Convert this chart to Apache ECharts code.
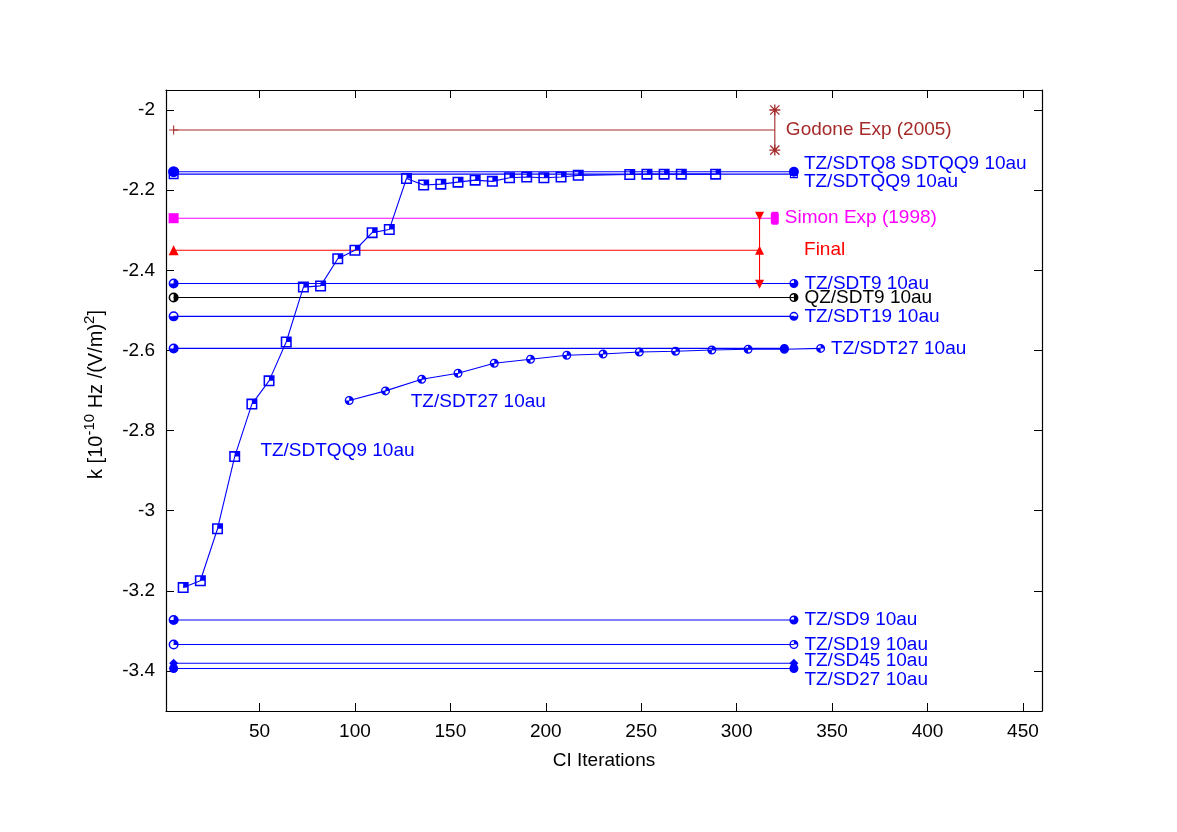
<!DOCTYPE html>
<html>
<head>
<meta charset="utf-8">
<script src="https://cdn.jsdelivr.net/npm/echarts@6/dist/echarts.min.js"></script>
<style>html,body{margin:0;padding:0;background:#fff}#c{width:1177px;height:832px}</style>
</head>
<body>
<div id="c"></div>
<script>
// ---------- data ----------
const xTicks = [50, 100, 150, 200, 250, 300, 350, 400, 450];
const yTicks = [-3.4, -3.2, -3, -2.8, -2.6, -2.4, -2.2, -2];

// horizontal reference results (name, value, start/end iteration)
const refNames  = ['Godone Exp (2005)', 'TZ/SDTQ8 SDTQQ9 10au', 'TZ/SDTQQ9 10au', 'Simon Exp (1998)', 'Final',
                   'TZ/SDT9 10au', 'QZ/SDT9 10au', 'TZ/SDT19 10au', 'TZ/SDT27 10au',
                   'TZ/SD9 10au', 'TZ/SD19 10au', 'TZ/SD45 10au', 'TZ/SD27 10au'];
const refValues = [-2.05, -2.154, -2.16, -2.27, -2.35,
                   -2.433, -2.468, -2.515, -2.595,
                   -3.273, -3.334, -3.381, -3.394];
const refStart  = [5, 5, 5, 5, 5, 5, 5, 5, 5, 5, 5, 5, 5];
const refEnd    = [320, 330, 330, 320, 312, 330, 330, 330, 325, 330, 330, 330, 330];

// experimental / final error bars
const godoneErrX = 320, godoneErr = [-2.0, -2.1];
const finalErrX = 312,  finalErr  = [-2.265, -2.435];

// CI convergence: TZ/SDTQQ9 10au
const sdtqq9Iter = [10, 19, 28, 37, 46, 55, 64, 73, 82, 91, 100, 109, 118, 127, 136, 145, 154, 163, 172,
                    181, 190, 199, 208, 217, 244, 253, 262, 271, 289];
const sdtqq9Vals = [-3.192, -3.175, -3.045, -2.865, -2.734, -2.676, -2.579, -2.442, -2.439, -2.371, -2.350,
                    -2.306, -2.298, -2.171, -2.187, -2.185, -2.180, -2.175, -2.178, -2.169, -2.167, -2.169,
                    -2.167, -2.163, -2.161, -2.160, -2.160, -2.160, -2.160];

// CI convergence: TZ/SDT27 10au
const sdt27Iter = [97, 116, 135, 154, 173, 192, 211, 230, 249, 268, 287, 306, 325, 344];
const sdt27Vals = [-2.725, -2.701, -2.672, -2.657, -2.632, -2.622, -2.612, -2.609, -2.604, -2.602,
                   -2.599, -2.597, -2.597, -2.595];

// ---------- styles ----------
const BLUE = '#0000ff', BROWN = '#a52a2a', MAG = '#ff00ff', RED = '#ff0000', BLACK = '#000000';
const FONT = 'Liberation Sans, Arial, Helvetica, sans-serif';
const FS = 19;

function circSym(q) {
  let p = 'M0,5 A5,5 0 1 1 10,5 A5,5 0 1 1 0,5 Z M1.5,5 A3.5,3.5 0 1 0 8.5,5 A3.5,3.5 0 1 0 1.5,5 Z';
  const seg = {
    0: 'M5,5 L5,1.5 A3.5,3.5 0 0 1 8.5,5 Z',
    1: 'M5,5 L8.5,5 A3.5,3.5 0 0 1 5,8.5 Z',
    2: 'M5,5 L5,8.5 A3.5,3.5 0 0 1 1.5,5 Z',
    3: 'M5,5 L1.5,5 A3.5,3.5 0 0 1 5,1.5 Z'
  };
  q.forEach(k => { p += ' ' + seg[k]; });
  return 'path://' + p;
}
const SQ = 'path://M0,0 H10 V10 H0 Z M1.4,1.4 V8.6 H8.6 V1.4 Z M5,1.4 H8.6 V5 H5 Z';
const PLUS = 'path://M4.4,0 H5.6 V10 H4.4 Z M0,4.4 H10 V5.6 H0 Z';
const STAR = 'path://M4.4,0 H5.6 V10 H4.4 Z M0,4.4 H10 V5.6 H0 Z M1.2,0.4 L9.6,8.8 L8.8,9.6 L0.4,1.2 Z M8.8,0.4 L9.6,1.2 L1.2,9.6 L0.4,8.8 Z';

// per reference line: colour, left symbol, right symbol, label placement
const refStyle = [
  {c: BROWN, l: PLUS, ls: 9, r: 'circle', rs: 0.1, lab: {dist: 11, dy: 0}},
  {c: BLUE, l: 'circle', ls: 11, r: 'circle', rs: 10, lab: {dist: 5, dy: -8}},
  {c: BLUE, l: SQ, ls: 10, r: SQ, rs: 8, lab: {dist: 6, dy: 8}},
  {c: MAG, l: 'rect', ls: 10, r: 'roundRect', rsArr: [8, 13], lab: {dist: 6, dy: 0}},
  {c: RED, l: 'triangle', ls: 10, r: 'triangle', rs: 9, lab: {dist: 40, dy: 0}},
  {c: BLUE, l: circSym([0, 1, 2]), ls: 10, r: circSym([0, 1, 2]), rs: 9, lab: {dist: 6, dy: 0}},
  {c: BLACK, l: circSym([0, 1]), ls: 10, r: circSym([0, 1]), rs: 9, lab: {dist: 6, dy: 0}},
  {c: BLUE, l: circSym([1, 2]), ls: 10, r: circSym([1, 2]), rs: 9, lab: {dist: 6, dy: 0}},
  {c: BLUE, l: circSym([0, 1, 2]), ls: 10, r: circSym([0, 1, 2, 3]), rs: 9, lab: null},
  {c: BLUE, l: circSym([0, 1, 2]), ls: 10, r: circSym([0, 1, 2]), rs: 9, lab: {dist: 6, dy: 0}},
  {c: BLUE, l: circSym([0]), ls: 10, r: circSym([0]), rs: 9, lab: {dist: 6, dy: 0}},
  {c: BLUE, l: 'diamond', ls: 9, r: 'diamond', rs: 9, lab: {dist: 6, dy: -3}},
  {c: BLUE, l: 'circle', ls: 9, r: 'circle', rs: 9, lab: {dist: 6, dy: 11}}
];

const series = [];
refNames.forEach((name, i) => {
  const st = refStyle[i];
  const right = {value: [refEnd[i], refValues[i]], symbol: st.r, symbolSize: st.rsArr || st.rs};
  if (st.lab) {
    right.label = {
      show: true, position: 'right', distance: st.lab.dist, offset: [0, st.lab.dy],
      formatter: name, color: st.c, fontSize: FS, fontFamily: FONT
    };
  }
  series.push({
    type: 'line', name: name, z: 3,
    lineStyle: {color: st.c, width: 1.1},
    itemStyle: {color: st.c},
    data: [{value: [refStart[i], refValues[i]], symbol: st.l, symbolSize: st.ls}, right]
  });
});

// error bars
series.push({
  type: 'line', name: 'Godone err', z: 4,
  lineStyle: {color: BROWN, width: 1.1}, itemStyle: {color: BROWN},
  symbol: STAR, symbolSize: 11,
  data: godoneErr.map(v => [godoneErrX, v])
});
series.push({
  type: 'line', name: 'Final err', z: 4,
  lineStyle: {color: RED, width: 1.1}, itemStyle: {color: RED},
  symbol: 'triangle', symbolRotate: 180, symbolSize: 9,
  data: finalErr.map(v => [finalErrX, v])
});

// convergence series
series.push({
  type: 'line', name: 'TZ/SDTQQ9 10au (CI)', z: 5,
  lineStyle: {color: BLUE, width: 1.1}, itemStyle: {color: BLUE},
  symbol: SQ, symbolSize: 11,
  data: sdtqq9Iter.map((x, i) => {
    const d = {value: [x, sdtqq9Vals[i]]};
    if (i === 4) d.label = {show: true, position: 'right', distance: 3, offset: [0, 47],
      formatter: 'TZ/SDTQQ9 10au', color: BLUE, fontSize: FS, fontFamily: FONT};
    return d;
  })
});
series.push({
  type: 'line', name: 'TZ/SDT27 10au (CI)', z: 5,
  lineStyle: {color: BLUE, width: 1.1}, itemStyle: {color: BLUE},
  symbol: circSym([0, 2]), symbolSize: 9,
  data: sdt27Iter.map((x, i) => {
    const d = {value: [x, sdt27Vals[i]]};
    if (i === 0) d.label = {show: true, position: 'right', distance: 57, offset: [0, 1],
      formatter: 'TZ/SDT27 10au', color: BLUE, fontSize: FS, fontFamily: FONT};
    if (i === sdt27Iter.length - 1) d.label = {show: true, position: 'right', distance: 6, offset: [0, 0],
      formatter: 'TZ/SDT27 10au', color: BLUE, fontSize: FS, fontFamily: FONT};
    return d;
  })
});

const axisCommon = {
  axisLine: {show: true, lineStyle: {color: '#000', width: 1.2}},
  splitLine: {show: false}
};

const option = {
  animation: false,
  backgroundColor: '#fff',
  grid: {left: 166, right: 135, top: 90, bottom: 121, containLabel: false},
  xAxis: [
    Object.assign({}, axisCommon, {
      type: 'value', min: 1, max: 460, position: 'bottom',
      name: 'CI Iterations', nameLocation: 'middle', nameGap: 40,
      nameTextStyle: {color: '#000', fontSize: FS, fontFamily: FONT},
      axisTick: {show: true, inside: true, length: 8, customValues: xTicks, lineStyle: {color: '#000'}},
      axisLabel: {show: true, customValues: xTicks, margin: 11, color: '#000', fontSize: FS, fontFamily: FONT}
    }),
    Object.assign({}, axisCommon, {
      type: 'value', min: 1, max: 460, position: 'top',
      axisTick: {show: true, inside: true, length: 8, customValues: xTicks, lineStyle: {color: '#000'}},
      axisLabel: {show: false}
    })
  ],
  yAxis: [
    Object.assign({}, axisCommon, {
      type: 'value', min: -3.5, max: -1.95, position: 'left',
      name: '{n|k [10}{s|-10}{n| Hz /(V/m)}{s|2}{n|]}', nameLocation: 'middle', nameGap: 60, nameRotate: 90,
      nameTextStyle: {
        color: '#000', fontFamily: FONT, padding: [0, 0, 0, 12],
        rich: {
          n: {fontSize: 20, lineHeight: 24, verticalAlign: 'bottom', fontFamily: FONT, color: '#000'},
          s: {fontSize: 15, lineHeight: 24, verticalAlign: 'top', fontFamily: FONT, color: '#000'}
        }
      },
      axisTick: {show: true, inside: true, length: 8, customValues: yTicks, lineStyle: {color: '#000'}},
      axisLabel: {show: true, customValues: yTicks, margin: 11, color: '#000', fontSize: FS, fontFamily: FONT}
    }),
    Object.assign({}, axisCommon, {
      type: 'value', min: -3.5, max: -1.95, position: 'right',
      axisTick: {show: true, inside: true, length: 8, customValues: yTicks, lineStyle: {color: '#000'}},
      axisLabel: {show: false}
    })
  ],
  series: series
};

const chart = echarts.init(document.getElementById('c'));
chart.setOption(option);
</script>
</body>
</html>
